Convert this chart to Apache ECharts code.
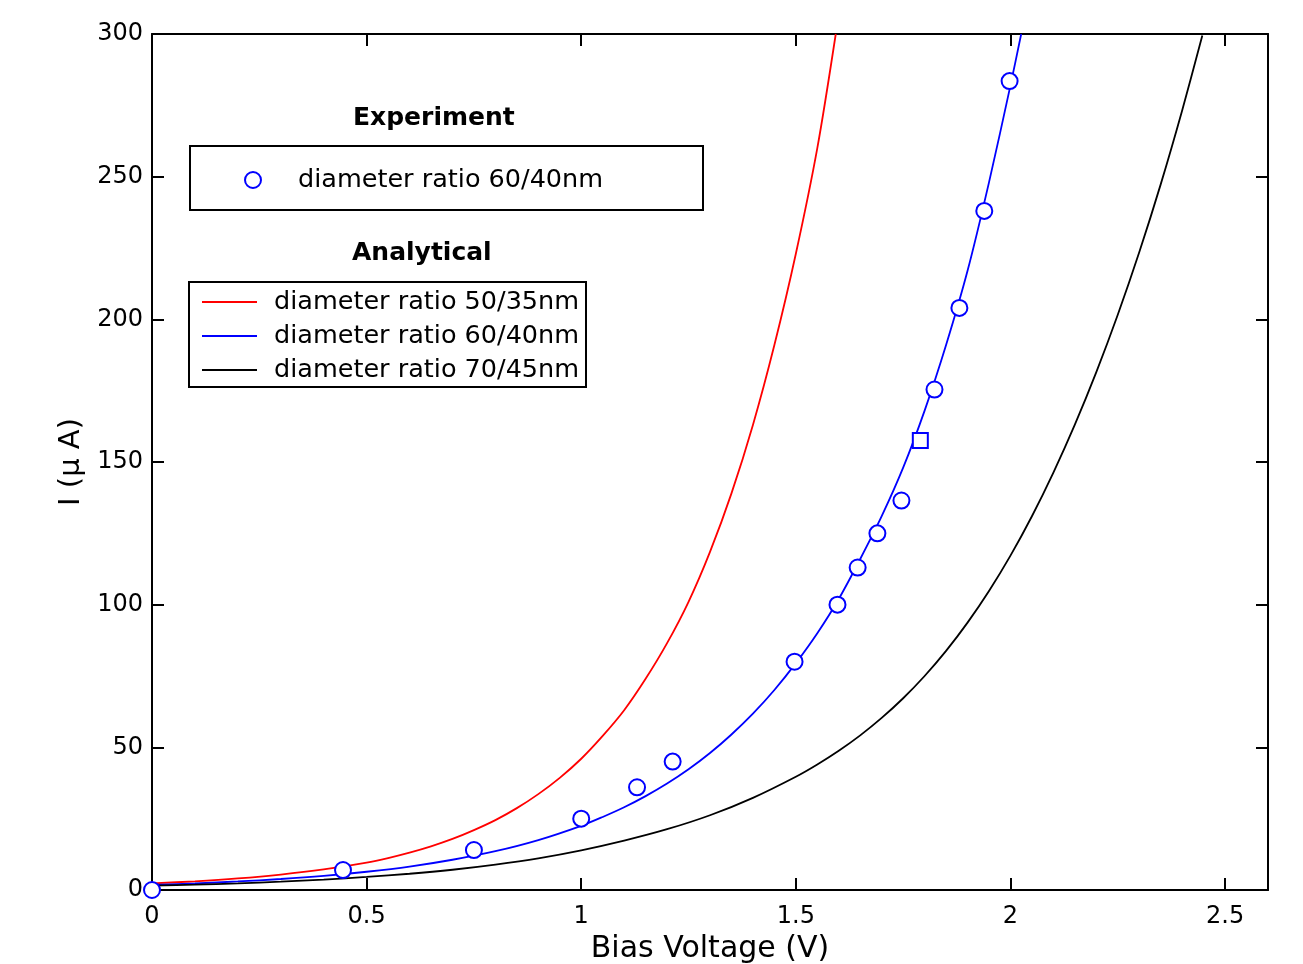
<!DOCTYPE html>
<html>
<head>
<meta charset="utf-8">
<title>I-V curves</title>
<script src="https://cdn.jsdelivr.net/npm/echarts@6/dist/echarts.min.js"></script>
<style>
  html, body { margin: 0; padding: 0; background: #fff; }
  #main { width: 1303px; height: 964px; }
</style>
</head>
<body>
<div id="main"></div>
<script>
// experiment, diameter ratio 60/40nm
const expV = [0, 0.445, 0.75, 1.0, 1.13, 1.213, 1.497, 1.597, 1.644, 1.69, 1.746, 1.79, 1.823, 1.881, 1.939, 1.998];
const expI = [0, 7, 14, 25, 36, 45, 80, 100, 113, 125, 136.5, 157.5, 175.4, 204, 238, 283.5];
const squareIndex = 11; // that one point is drawn as a square in the original

// analytical curves (closer readings where they get steep)
const redV = [0, 0.1, 0.2, 0.3, 0.4, 0.5, 0.55, 0.6, 0.65, 0.7, 0.75, 0.8, 0.85, 0.9, 0.95, 1.0,
  1.05, 1.1, 1.15, 1.2, 1.25, 1.3, 1.35, 1.4, 1.45, 1.5, 1.55, 1.593];
const redI = [2.3, 3.05, 4.05, 5.4, 7.2, 9.6, 11.2, 13.1, 15.3, 17.9, 21, 24.5, 28.7, 33.6, 39.3, 46,
  54, 63, 74, 86.5, 101, 118.5, 139, 163, 191, 223, 260, 300];

const blueV = [0, 0.1, 0.2, 0.3, 0.4, 0.5, 0.6, 0.7, 0.8, 0.9, 1.0, 1.05, 1.1, 1.15, 1.2, 1.25, 1.3, 1.35, 1.4, 1.45,
  1.5, 1.55, 1.6, 1.65, 1.7, 1.75, 1.8, 1.85, 1.9, 1.95, 2.0, 2.025];
const blueI = [1.8, 2.3, 3.0, 3.85, 4.95, 6.4, 8.2, 10.6, 13.6, 17.5, 22.5, 25.6, 29, 32.9, 37.3, 42.3, 48, 54.5, 61.8, 70.1,
  79.5, 90, 102, 116, 131, 148, 168, 191, 217, 248, 282, 300];

const blackV = [0, 0.1, 0.2, 0.3, 0.4, 0.5, 0.6, 0.7, 0.8, 0.9, 1.0, 1.1, 1.2, 1.3, 1.4, 1.5, 1.55, 1.6, 1.65, 1.7,
  1.75, 1.8, 1.85, 1.9, 1.95, 2.0, 2.05, 2.1, 2.15, 2.2, 2.25, 2.3, 2.35, 2.4, 2.447];
const blackI = [1.5, 1.85, 2.3, 2.9, 3.65, 4.6, 5.7, 7.1, 8.9, 11.1, 13.9, 17.3, 21.3, 26.2, 32.3, 39.7, 44, 48.8, 54.2, 60.3,
  67.2, 75, 83.8, 93.7, 104.8, 117.2, 131, 146.3, 163.1, 181.5, 201.6, 223.5, 247.3, 273.2, 299.5];

const xTicks = [0, 2.6, 0.5];   // min, max, interval
const yTicks = [0, 300, 50];

const zip = (xs, ys) => xs.map((x, i) => [x, ys[i]]);

const FONT = 'DejaVu Sans';
const EXP_NAME = 'Experiment|diameter ratio 60/40nm';
const RED_NAME = 'diameter ratio 50/35nm';
const BLUE_NAME = 'diameter ratio 60/40nm';
const BLACK_NAME = 'diameter ratio 70/45nm';

const tick = {show: true, inside: true, length: 12, lineStyle: {color: '#000', width: 2}};
const line = {show: true, onZero: false, lineStyle: {color: '#000', width: 2}};

const curve = (name, xs, ys, color) => ({
  name, type: 'line', data: zip(xs, ys), symbol: 'none', smooth: 0.3,
  color, lineStyle: {width: 1.8, color}
});

const chart = echarts.init(document.getElementById('main'));
chart.setOption({
  animation: false,
  backgroundColor: '#fff',
  grid: {left: 152, right: 35, top: 34, bottom: 74, outerBoundsMode: 'none', containLabel: false},
  xAxis: [
    {
      type: 'value', min: xTicks[0], max: xTicks[1], interval: xTicks[2],
      name: 'Bias Voltage (V)', nameLocation: 'middle', nameGap: 40,
      nameTextStyle: {fontFamily: FONT, fontSize: 30, color: '#000'},
      axisLine: line, axisTick: tick, splitLine: {show: false},
      axisLabel: {fontFamily: FONT, fontSize: 24, color: '#000', margin: 15, showMaxLabel: false}
    },
    {
      type: 'value', position: 'top', min: xTicks[0], max: xTicks[1], interval: xTicks[2],
      axisLine: line, axisTick: tick, splitLine: {show: false}, axisLabel: {show: false}
    }
  ],
  yAxis: [
    {
      type: 'value', min: yTicks[0], max: yTicks[1], interval: yTicks[2],
      name: 'I (μ A)', nameLocation: 'middle', nameGap: 63, nameRotate: 90,
      nameTextStyle: {fontFamily: FONT, fontSize: 29, color: '#000'},
      axisLine: line, axisTick: tick, splitLine: {show: false},
      axisLabel: {fontFamily: FONT, fontSize: 24, color: '#000', margin: 9}
    },
    {
      type: 'value', position: 'right', min: yTicks[0], max: yTicks[1], interval: yTicks[2],
      axisLine: line, axisTick: tick, splitLine: {show: false}, axisLabel: {show: false}
    }
  ],
  legend: [
    {
      data: [{name: EXP_NAME, icon: 'emptyCircle'}],
      left: 239, top: 160, itemWidth: 16, itemHeight: 16,
      formatter: name => name.split('|')[1],
      textStyle: {fontFamily: FONT, fontSize: 25.5, lineHeight: 30, color: '#000', padding: [0, 0, 0, 32]},
      selectedMode: false
    },
    {
      data: [
        {name: RED_NAME, icon: 'rect'},
        {name: BLUE_NAME, icon: 'rect'},
        {name: BLACK_NAME, icon: 'rect'}
      ],
      orient: 'vertical', left: 197, top: 282, itemWidth: 55, itemHeight: 2, itemGap: 4,
      textStyle: {fontFamily: FONT, fontSize: 25.5, lineHeight: 30, color: '#000', padding: [0, 0, 0, 12]},
      selectedMode: false
    }
  ],
  graphic: [
    {type: 'text', left: 353, top: 106, style: {text: 'Experiment', font: 'bold 25px "DejaVu Sans"', fill: '#000'}},
    {type: 'rect', shape: {x: 190, y: 146, width: 513, height: 64}, style: {fill: 'none', stroke: '#000', lineWidth: 2}},
    {type: 'text', left: 352, top: 241, style: {text: 'Analytical', font: 'bold 25px "DejaVu Sans"', fill: '#000'}},
    {type: 'rect', shape: {x: 189, y: 282, width: 397, height: 105}, style: {fill: 'none', stroke: '#000', lineWidth: 2}}
  ],
  series: [
    curve(RED_NAME, redV, redI, '#ff0000'),
    curve(BLUE_NAME, blueV, blueI, '#0000ff'),
    curve(BLACK_NAME, blackV, blackI, '#000000'),
    {
      name: EXP_NAME, type: 'scatter', data: zip(expV, expI), clip: false, z: 5,
      symbol: (v, p) => p.dataIndex === squareIndex ? 'emptyRect' : 'emptyCircle',
      symbolSize: (v, p) => p.dataIndex === squareIndex ? 15 : 16,
      color: '#0000ff', itemStyle: {color: '#0000ff', borderColor: '#0000ff', borderWidth: 2.2, opacity: 1}
    }
  ]
});
</script>
</body>
</html>
